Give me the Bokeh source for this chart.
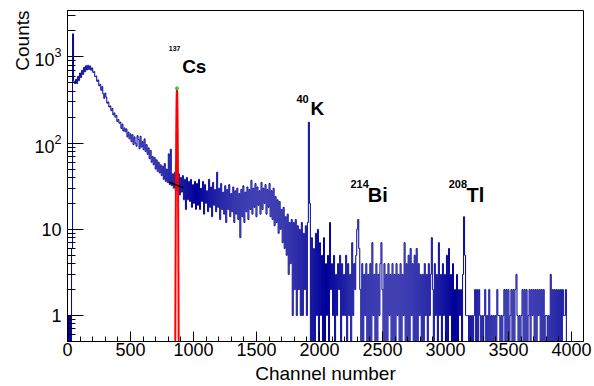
import numpy as np
from bokeh.plotting import figure
from bokeh.models import Range1d, FixedTicker, ColumnDataSource, Title, LogTickFormatter
from bokeh.core.properties import value
from bokeh.embed import file_html
from bokeh.resources import INLINE

# ---------------- data (counts per 8-channel bin) ----------------
BIN_WIDTH = 8

counts_0000_1023 = [
    1, 0, 1, 0, 6, 1850, 520, 490, 550, 490, 595, 530, 650, 575, 700, 625,
    760, 670, 790, 705, 800, 715, 785, 700, 745, 660, 675, 590, 600, 520, 540, 462,
    480, 410, 452, 372, 330, 380, 342, 290, 300, 262, 270, 238, 252, 212, 224, 200,
    210, 178, 188, 170, 175, 148, 166, 138, 150, 135, 146, 118, 134, 112, 128, 104,
    125, 96, 118, 100, 92, 122, 110, 86, 120, 90, 104, 84, 112, 80, 96, 74,
    88, 66, 82, 60, 70, 56, 68, 50, 64, 47, 60, 45, 56, 42, 54, 38,
    58, 36, 50, 35, 75, 33, 85, 32, 44, 30, 46, 28, 40, 30, 44, 25,
    40, 27, 42, 22, 38, 17, 40, 22, 36, 21, 38, 18, 33, 20, 36, 17,
]
counts_1024_2047 = [
    34, 19, 38, 17, 30, 21, 36, 15, 33, 20, 28, 16, 38, 18, 31, 14,
    35, 19, 29, 16, 46, 18, 30, 13, 34, 17, 27, 15, 32, 12, 29, 17,
    33, 14, 26, 16, 31, 12, 28, 15, 30, 13, 26, 8, 29, 14, 32, 12,
    27, 16, 31, 13, 29, 17, 37, 15, 30, 18, 34, 14, 31, 19, 28, 15,
    35, 17, 30, 20, 33, 15, 29, 18, 34, 14, 28, 13, 30, 11, 24, 12,
    22, 9, 21, 10, 17, 7, 18, 6, 14, 5, 15, 3, 12, 4, 13, 1,
    12, 2, 13, 1, 11, 2, 10, 1, 12, 1, 9, 2, 11, 1, 12, 175,
    20, 0, 8, 0, 6, 0, 9, 1, 10, 0, 7, 1, 5, 0, 8, 0,
]
counts_2048_3071 = [
    4, 1, 5, 0, 12, 2, 4, 1, 5, 0, 3, 1, 4, 2, 5, 0,
    4, 1, 3, 1, 5, 0, 4, 1, 3, 0, 7, 1, 4, 2, 5, 10,
    13, 6, 2, 0, 4, 0, 3, 1, 4, 0, 3, 0, 4, 0, 7, 1,
    3, 0, 4, 0, 3, 1, 4, 7, 2, 0, 4, 0, 3, 0, 4, 1,
    3, 0, 4, 0, 3, 0, 4, 1, 3, 0, 4, 0, 3, 1, 7, 0,
    4, 0, 5, 0, 6, 1, 4, 0, 5, 0, 6, 0, 4, 1, 3, 0,
    3, 0, 4, 1, 3, 0, 4, 1, 3, 8, 2, 0, 4, 1, 3, 0,
    7, 1, 3, 0, 4, 1, 3, 0, 5, 0, 6, 1, 3, 0, 4, 0,
]
counts_3072_4095 = [
    2, 0, 3, 0, 2, 1, 2, 0, 3, 14, 5, 1, 1, 1, 0, 1,
    0, 1, 0, 1, 2, 0, 2, 0, 2, 1, 0, 1, 0, 1, 2, 0,
    1, 0, 2, 0, 1, 0, 1, 0, 1, 0, 2, 1, 1, 0, 1, 0,
    1, 2, 0, 2, 0, 2, 0, 1, 2, 0, 2, 0, 2, 3, 1, 0,
    1, 0, 1, 2, 0, 2, 0, 2, 0, 1, 2, 0, 2, 1, 2, 0,
    2, 0, 2, 1, 2, 0, 2, 0, 2, 0, 1, 1, 0, 1, 0, 3,
    0, 2, 0, 2, 0, 2, 0, 2, 0, 2, 0, 2, 1, 1, 2, 0,
    0, 0, 0, 0, 0, 0, 0, 0, 0, 0, 0, 0, 0, 0, 0, 0,
]

# Gaussian fit of the 137Cs peak
fit_channel = [855, 857, 859, 861, 863, 865, 867, 869, 871, 873, 875, 877, 879, 881, 883]
fit_counts = [0.34, 2.2, 11, 42, 116, 241, 373, 432, 373, 241, 116, 42, 11, 2.2, 0.34]
fit_peak_channel = [869]
fit_peak_counts = [432]
bkg_channel = [802, 921]
bkg_counts = [35.4, 30.3]

isotope_names = ["Cs", "K", "Bi", "Tl"]
isotope_mass = ["137", "40", "214", "208"]

x_ticks = [0, 500, 1000, 1500, 2000, 2500, 3000, 3500, 4000]
y_ticks = [1, 10, 100, 1000]

# ---------------- layout / style ----------------
name_x = [910, 1929, 2383, 3167]
name_y = [778, 252, 25, 25]
name_size = ["19px", "19px", "20px", "20px"]
mass_x = [804, 1817, 2246, 3026]
mass_y = [1245, 329, 33.6, 33.6]
mass_size = ["7px", "11px", "11px", "11px"]

FONT = "Liberation Sans"
BLUE = "#000099"

counts = np.array(counts_0000_1023 + counts_1024_2047 + counts_2048_3071 + counts_3072_4095, dtype=float)
edges = np.arange(len(counts) + 1) * BIN_WIDTH
shown = np.where(counts > 0, counts, 0.05)   # empty bins drop below the axis (log scale)
y_step = np.append(shown, shown[-1])

p = figure(width=594, height=386, x_range=Range1d(0, 4096), y_range=Range1d(0.5, 3450),
           y_axis_type="log", output_backend="svg", toolbar_location=None,
           min_border_left=67, min_border_right=11, min_border_top=10, min_border_bottom=44,
           background_fill_color="white", border_fill_color="white")
p.grid.visible = False
p.outline_line_color = "black"
p.outline_line_width = 1

p.step(edges, y_step, mode="after", line_color=BLUE, line_width=1)
p.line(fit_channel, fit_counts, line_color="red", line_width=2)
p.line(bkg_channel, bkg_counts, line_color="black", line_width=1.5)
p.scatter(fit_peak_channel, fit_peak_counts, size=3, color="#33cc33")

name_src = ColumnDataSource(dict(x=name_x, y=name_y, text=isotope_names, size=name_size))
p.text(x="x", y="y", text="text", source=name_src, text_font=value(FONT), text_font_style="bold",
       text_font_size="size", text_align="left", text_baseline="alphabetic", text_color="black")
mass_src = ColumnDataSource(dict(x=mass_x, y=mass_y, text=isotope_mass, size=mass_size))
p.text(x="x", y="y", text="text", source=mass_src, text_font=value(FONT), text_font_style="bold",
       text_font_size="size", text_align="left", text_baseline="alphabetic", text_color="black")

xa = p.xaxis[0]
xa.ticker = FixedTicker(ticks=x_ticks, minor_ticks=list(range(0, 4097, 100)))
xa.major_tick_in = 10
xa.major_tick_out = 0
xa.minor_tick_in = 5
xa.minor_tick_out = 0
xa.major_label_standoff = 1
xa.major_label_text_font = FONT
xa.major_label_text_font_size = "18px"
xa.major_label_text_color = "black"
xa.axis_line_color = "black"
xa.major_tick_line_color = "black"
xa.minor_tick_line_color = "black"
xa.axis_label = "Channel number"
xa.axis_label_standoff = 4
xa.axis_label_text_font = FONT
xa.axis_label_text_font_size = "19px"
xa.axis_label_text_font_style = "normal"
xa.axis_label_text_color = "black"

ya = p.yaxis[0]
minor_y = [0.5, 0.6, 0.7, 0.8, 0.9] + [m * d for d in (1, 10, 100) for m in range(2, 10)] + [2000, 3000]
ya.ticker = FixedTicker(ticks=y_ticks, minor_ticks=minor_y)
ya.formatter = LogTickFormatter(min_exponent=2)
ya.major_tick_in = 16
ya.major_tick_out = 0
ya.minor_tick_in = 8
ya.minor_tick_out = 0
ya.major_label_standoff = 6
ya.major_label_text_font = FONT
ya.major_label_text_font_size = "18px"
ya.major_label_text_color = "black"
ya.axis_line_color = "black"
ya.major_tick_line_color = "black"
ya.minor_tick_line_color = "black"

p.add_layout(Title(text="Counts", align="right", standoff=-3, offset=0, text_font=FONT,
                   text_font_size="19px", text_font_style="normal", text_color="black"), "left")

open("out.html", "w").write(file_html(p, INLINE))
